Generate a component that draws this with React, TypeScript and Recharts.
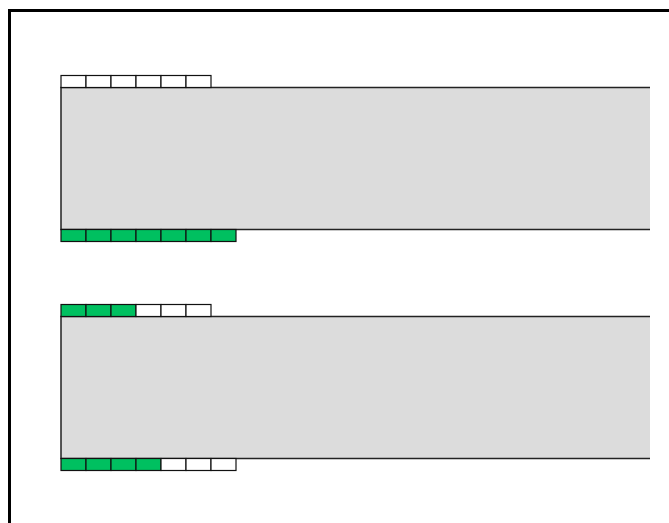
import { Bar, BarChart, XAxis, YAxis } from "recharts";

const rows = ["upper", "lower"];
const barLength = [23.56, 23.56];
const topCells = [6, 6];
const topFilled = [0, 3];
const bottomCells = [7, 7];
const bottomFilled = [7, 4];

const data = rows.map((name, i) => ({
  name,
  length: barLength[i],
  top: topCells[i],
  topOn: topFilled[i],
  bottom: bottomCells[i],
  bottomOn: bottomFilled[i],
}));

const GREEN = "#00c060";
const GRAY = "#dcdcdc";

function CellBar(props: any) {
  const { x, y, width, height, payload } = props;
  const unit = width / payload.length;
  const cellH = 12;
  const cells = [];
  for (let k = 0; k < payload.top; k++) {
    cells.push(
      <rect
        key={"t" + k}
        x={x + k * unit}
        y={y - cellH}
        width={unit}
        height={cellH}
        fill={k < payload.topOn ? GREEN : "#fff"}
        stroke="#111"
        strokeWidth={1.2}
      />
    );
  }
  for (let k = 0; k < payload.bottom; k++) {
    cells.push(
      <rect
        key={"b" + k}
        x={x + k * unit}
        y={y + height}
        width={unit}
        height={cellH}
        fill={k < payload.bottomOn ? GREEN : "#fff"}
        stroke="#111"
        strokeWidth={1.2}
      />
    );
  }
  return (
    <g>
      <rect x={x} y={y} width={width} height={height} fill={GRAY} />
      <path
        d={`M${x + width},${y}H${x}V${y + height}H${x + width}`}
        fill="none"
        stroke="#222"
        strokeWidth={1.5}
      />
      {cells}
    </g>
  );
}

export default function App() {
  return (
    <div
      style={{
        position: "fixed",
        left: 8,
        top: 9,
        width: 900,
        height: 700,
        border: "3px solid #000",
        background: "#fff",
      }}
    >
      <BarChart
        width={700}
        height={540}
        data={data}
        layout="vertical"
        barCategoryGap={0}
        margin={{ top: 31.5, right: 50, bottom: 50.5, left: 50 }}
      >
        <XAxis type="number" hide domain={[0, 24]} />
        <YAxis type="category" dataKey="name" hide />
        <Bar
          dataKey="length"
          barSize={142}
          shape={CellBar}
          isAnimationActive={false}
        />
      </BarChart>
    </div>
  );
}
